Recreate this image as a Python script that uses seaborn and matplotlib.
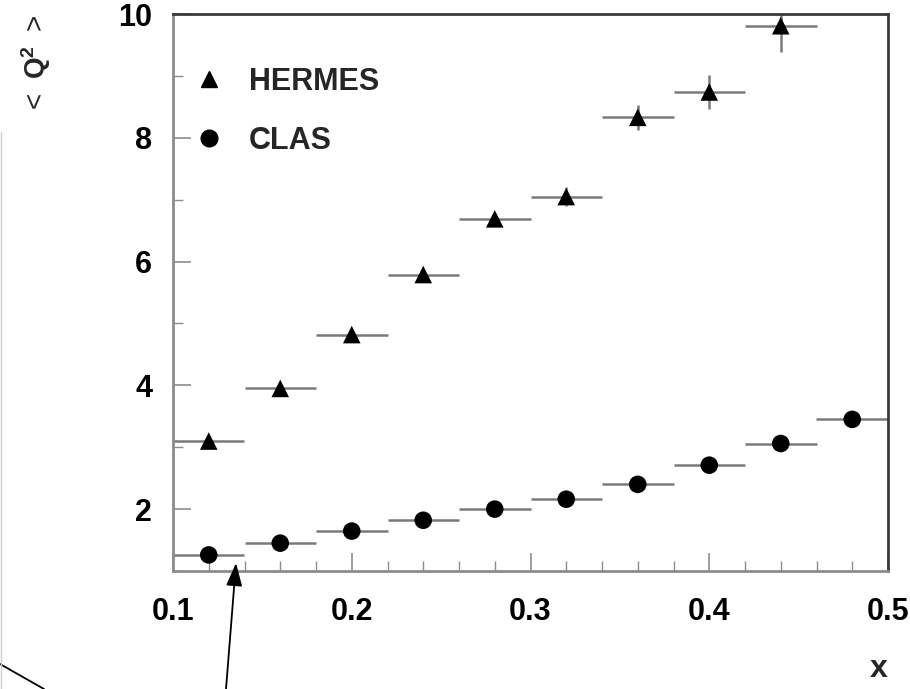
import numpy as np
import pandas as pd
import matplotlib
matplotlib.use("Agg")
import matplotlib.pyplot as plt
from matplotlib.lines import Line2D
from matplotlib.patches import FancyArrowPatch
from matplotlib.ticker import MultipleLocator
import seaborn as sns

# Mean Q^2 per x bin for the two experiments
hermes_x = [0.12, 0.16, 0.20, 0.24, 0.28, 0.32, 0.36, 0.40, 0.44]
hermes_q2 = [3.10, 3.95, 4.82, 5.79, 6.69, 7.05, 8.33, 8.74, 9.81]
hermes_q2_err = [0.04, 0.05, 0.06, 0.07, 0.08, 0.16, 0.20, 0.27, 0.42]

clas_x = [0.12, 0.16, 0.20, 0.24, 0.28, 0.32, 0.36, 0.40, 0.44, 0.48]
clas_q2 = [1.26, 1.45, 1.645, 1.82, 2.00, 2.16, 2.40, 2.71, 3.06, 3.45]

bin_half_width = 0.02

x_ticks = [0.1, 0.2, 0.3, 0.4, 0.5]
y_ticks = [2, 4, 6, 8, 10]

sns.set_theme(style="white")
plt.rcParams["font.family"] = ["Liberation Sans", "DejaVu Sans"]
plt.rcParams["mathtext.fontset"] = "custom"
plt.rcParams["mathtext.rm"] = "Liberation Sans"
plt.rcParams["mathtext.bf"] = "Liberation Sans:bold"

df = pd.DataFrame({
    "x": hermes_x + clas_x,
    "q2": hermes_q2 + clas_q2,
    "exp": ["HERMES"] * len(hermes_x) + ["CLAS"] * len(clas_x),
})

fig = plt.figure(figsize=(9.10, 6.89), dpi=100)
ax = fig.add_axes([173 / 910, 1 - 571 / 689, 715 / 910, 557 / 689])

bar_col = "#7a7a7a"
ax.errorbar(hermes_x, hermes_q2, xerr=bin_half_width, yerr=hermes_q2_err,
            fmt="none", ecolor=bar_col, elinewidth=1.8, capsize=0, zorder=2)
ax.errorbar(clas_x, clas_q2, xerr=bin_half_width,
            fmt="none", ecolor=bar_col, elinewidth=1.8, capsize=0, zorder=2)

sns.scatterplot(data=df, x="x", y="q2", style="exp",
                markers={"HERMES": "^", "CLAS": "o"}, color="black",
                s=160, edgecolor="black", linewidth=0, legend=False,
                ax=ax, zorder=3)

ax.set_xlim(0.1, 0.5)
ax.set_ylim(1.0, 10.0)
ax.set_xticks(x_ticks)
ax.set_xticklabels([f"{v:.1f}" for v in x_ticks])
ax.set_yticks(y_ticks)
ax.set_yticklabels([str(v) for v in y_ticks])
ax.xaxis.set_minor_locator(MultipleLocator(0.02))
ax.yaxis.set_minor_locator(MultipleLocator(1.0))
ax.set_xlabel("")
ax.set_ylabel("")

ax.tick_params(axis="both", which="both", direction="in", colors="#8c8c8c",
               labelcolor="black", labelsize=22, bottom=True, left=True,
               top=False, right=False)
ax.tick_params(axis="both", which="major", length=13, width=1.2)
ax.tick_params(axis="both", which="minor", length=7, width=1.0)
ax.tick_params(axis="x", which="major", pad=19)
ax.tick_params(axis="y", which="major", pad=15)
for lab in ax.get_xticklabels() + ax.get_yticklabels():
    lab.set_fontweight("bold")

for side in ("left", "bottom"):
    ax.spines[side].set_color("#8c8c8c")
    ax.spines[side].set_linewidth(2.0)
for side in ("top", "right"):
    ax.spines[side].set_color("#3a3a3a")
    ax.spines[side].set_linewidth(2.0)

handles = [
    Line2D([], [], linestyle="none", marker="^", color="black", markersize=12),
    Line2D([], [], linestyle="none", marker="o", color="black", markersize=12),
]
ax.legend(handles, ["HERMES", "CLAS"], loc="upper left",
          bbox_to_anchor=(0.008, 0.905), frameon=False,
          prop={"weight": "bold", "size": 22}, handlelength=2.0,
          handletextpad=0.3, labelspacing=0.95, borderpad=0.0,
          borderaxespad=0.0)

fig.text(36 / 910, 1 - 65 / 689, r"$<\ \mathbf{Q^2}\ >$", rotation=90,
         ha="center", va="center", fontsize=20)
fig.text(879 / 910, 1 - 669 / 689, "x", ha="center", va="center",
         fontsize=23, fontweight="bold")

# Leader lines running in from the surrounding page
fig.add_artist(Line2D([0 / 910, 44 / 910], [1 - 664 / 689, 0.0],
                      transform=fig.transFigure, color="black", lw=1.3))
fig.add_artist(Line2D([1 / 910, 1 / 910], [1 - 132 / 689, 0.0],
                      transform=fig.transFigure, color="#d0d0d0", lw=1.0))
fig.add_artist(FancyArrowPatch(
    (226 / 910, 0.0), (236 / 910, 1 - 563 / 689),
    transform=fig.transFigure, arrowstyle="-|>,head_length=1.0,head_width=0.35",
    mutation_scale=14, color="black", lw=1.3, shrinkA=0, shrinkB=0))

fig.savefig("out.png", dpi=100)
